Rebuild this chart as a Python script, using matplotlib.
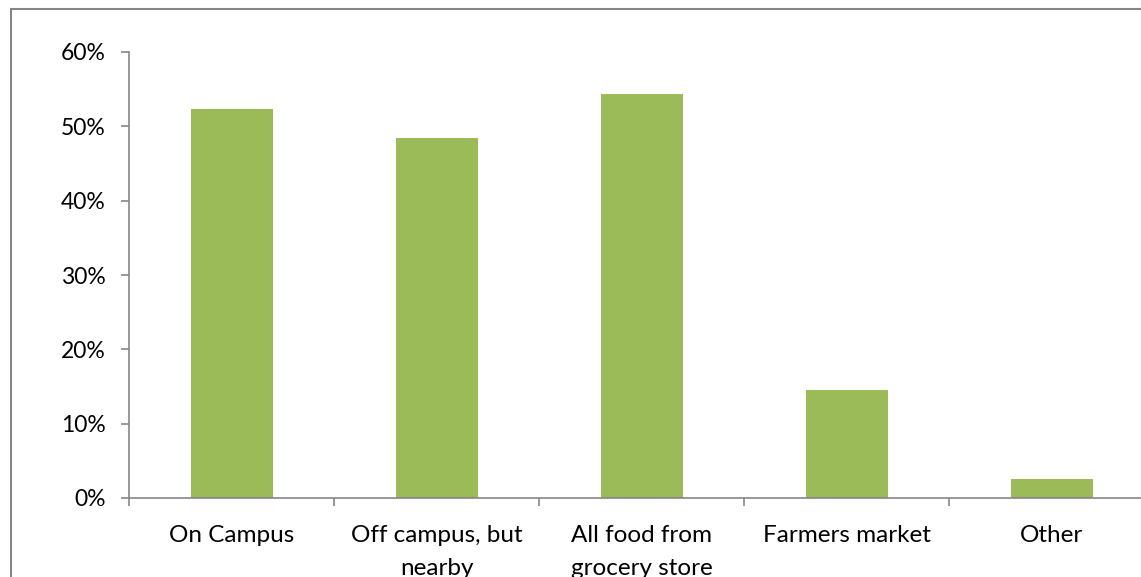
import matplotlib.pyplot as plt
from matplotlib.patches import Rectangle
from matplotlib.ticker import FixedLocator, PercentFormatter

categories = ["On Campus", "Off campus, but\nnearby", "All food from\ngrocery store",
              "Farmers market", "Other"]
shares = [52.3, 48.4, 54.3, 14.5, 2.5]
y_ticks = [0, 10, 20, 30, 40, 50, 60]

bar_color = "#9BBB59"
axis_color = "#868686"

plt.rcParams["font.family"] = ["Lato", "DejaVu Sans"]

W, H = 1141, 577
fig = plt.figure(figsize=(W / 100, H / 100), dpi=100)

# outer chart frame (right and bottom edges fall outside the canvas)
fig.patches.append(Rectangle((11 / W, -0.1), 1.2, 1 - 8.5 / H + 0.1,
                             transform=fig.transFigure, fill=False,
                             edgecolor=axis_color, linewidth=1.5))

ax = fig.add_axes([129 / W, 79 / H, 1025 / W, 446 / H])
x = list(range(len(categories)))
ax.bar(x, shares, width=0.4, color=bar_color, zorder=2)

ax.set_xlim(-0.5, len(categories) - 0.5)
ax.set_ylim(0, 60)
ax.set_yticks(y_ticks)
ax.yaxis.set_major_formatter(PercentFormatter(decimals=0))

ax.set_xticks(x)
ax.set_xticklabels(categories, linespacing=1.7)
ax.xaxis.set_minor_locator(FixedLocator([i - 0.5 for i in range(len(categories) + 1)]))

for side in ("top", "right"):
    ax.spines[side].set_visible(False)
for side in ("left", "bottom"):
    ax.spines[side].set_color(axis_color)
    ax.spines[side].set_linewidth(1.2)

ax.tick_params(axis="y", length=6, width=1.2, color=axis_color, pad=11,
               labelsize=16.5, labelcolor="black")
ax.tick_params(axis="x", which="major", length=0, pad=19.5,
               labelsize=17.5, labelcolor="black")
ax.tick_params(axis="x", which="minor", length=6, width=1.2, color=axis_color)

fig.savefig("out.png", dpi=100)
